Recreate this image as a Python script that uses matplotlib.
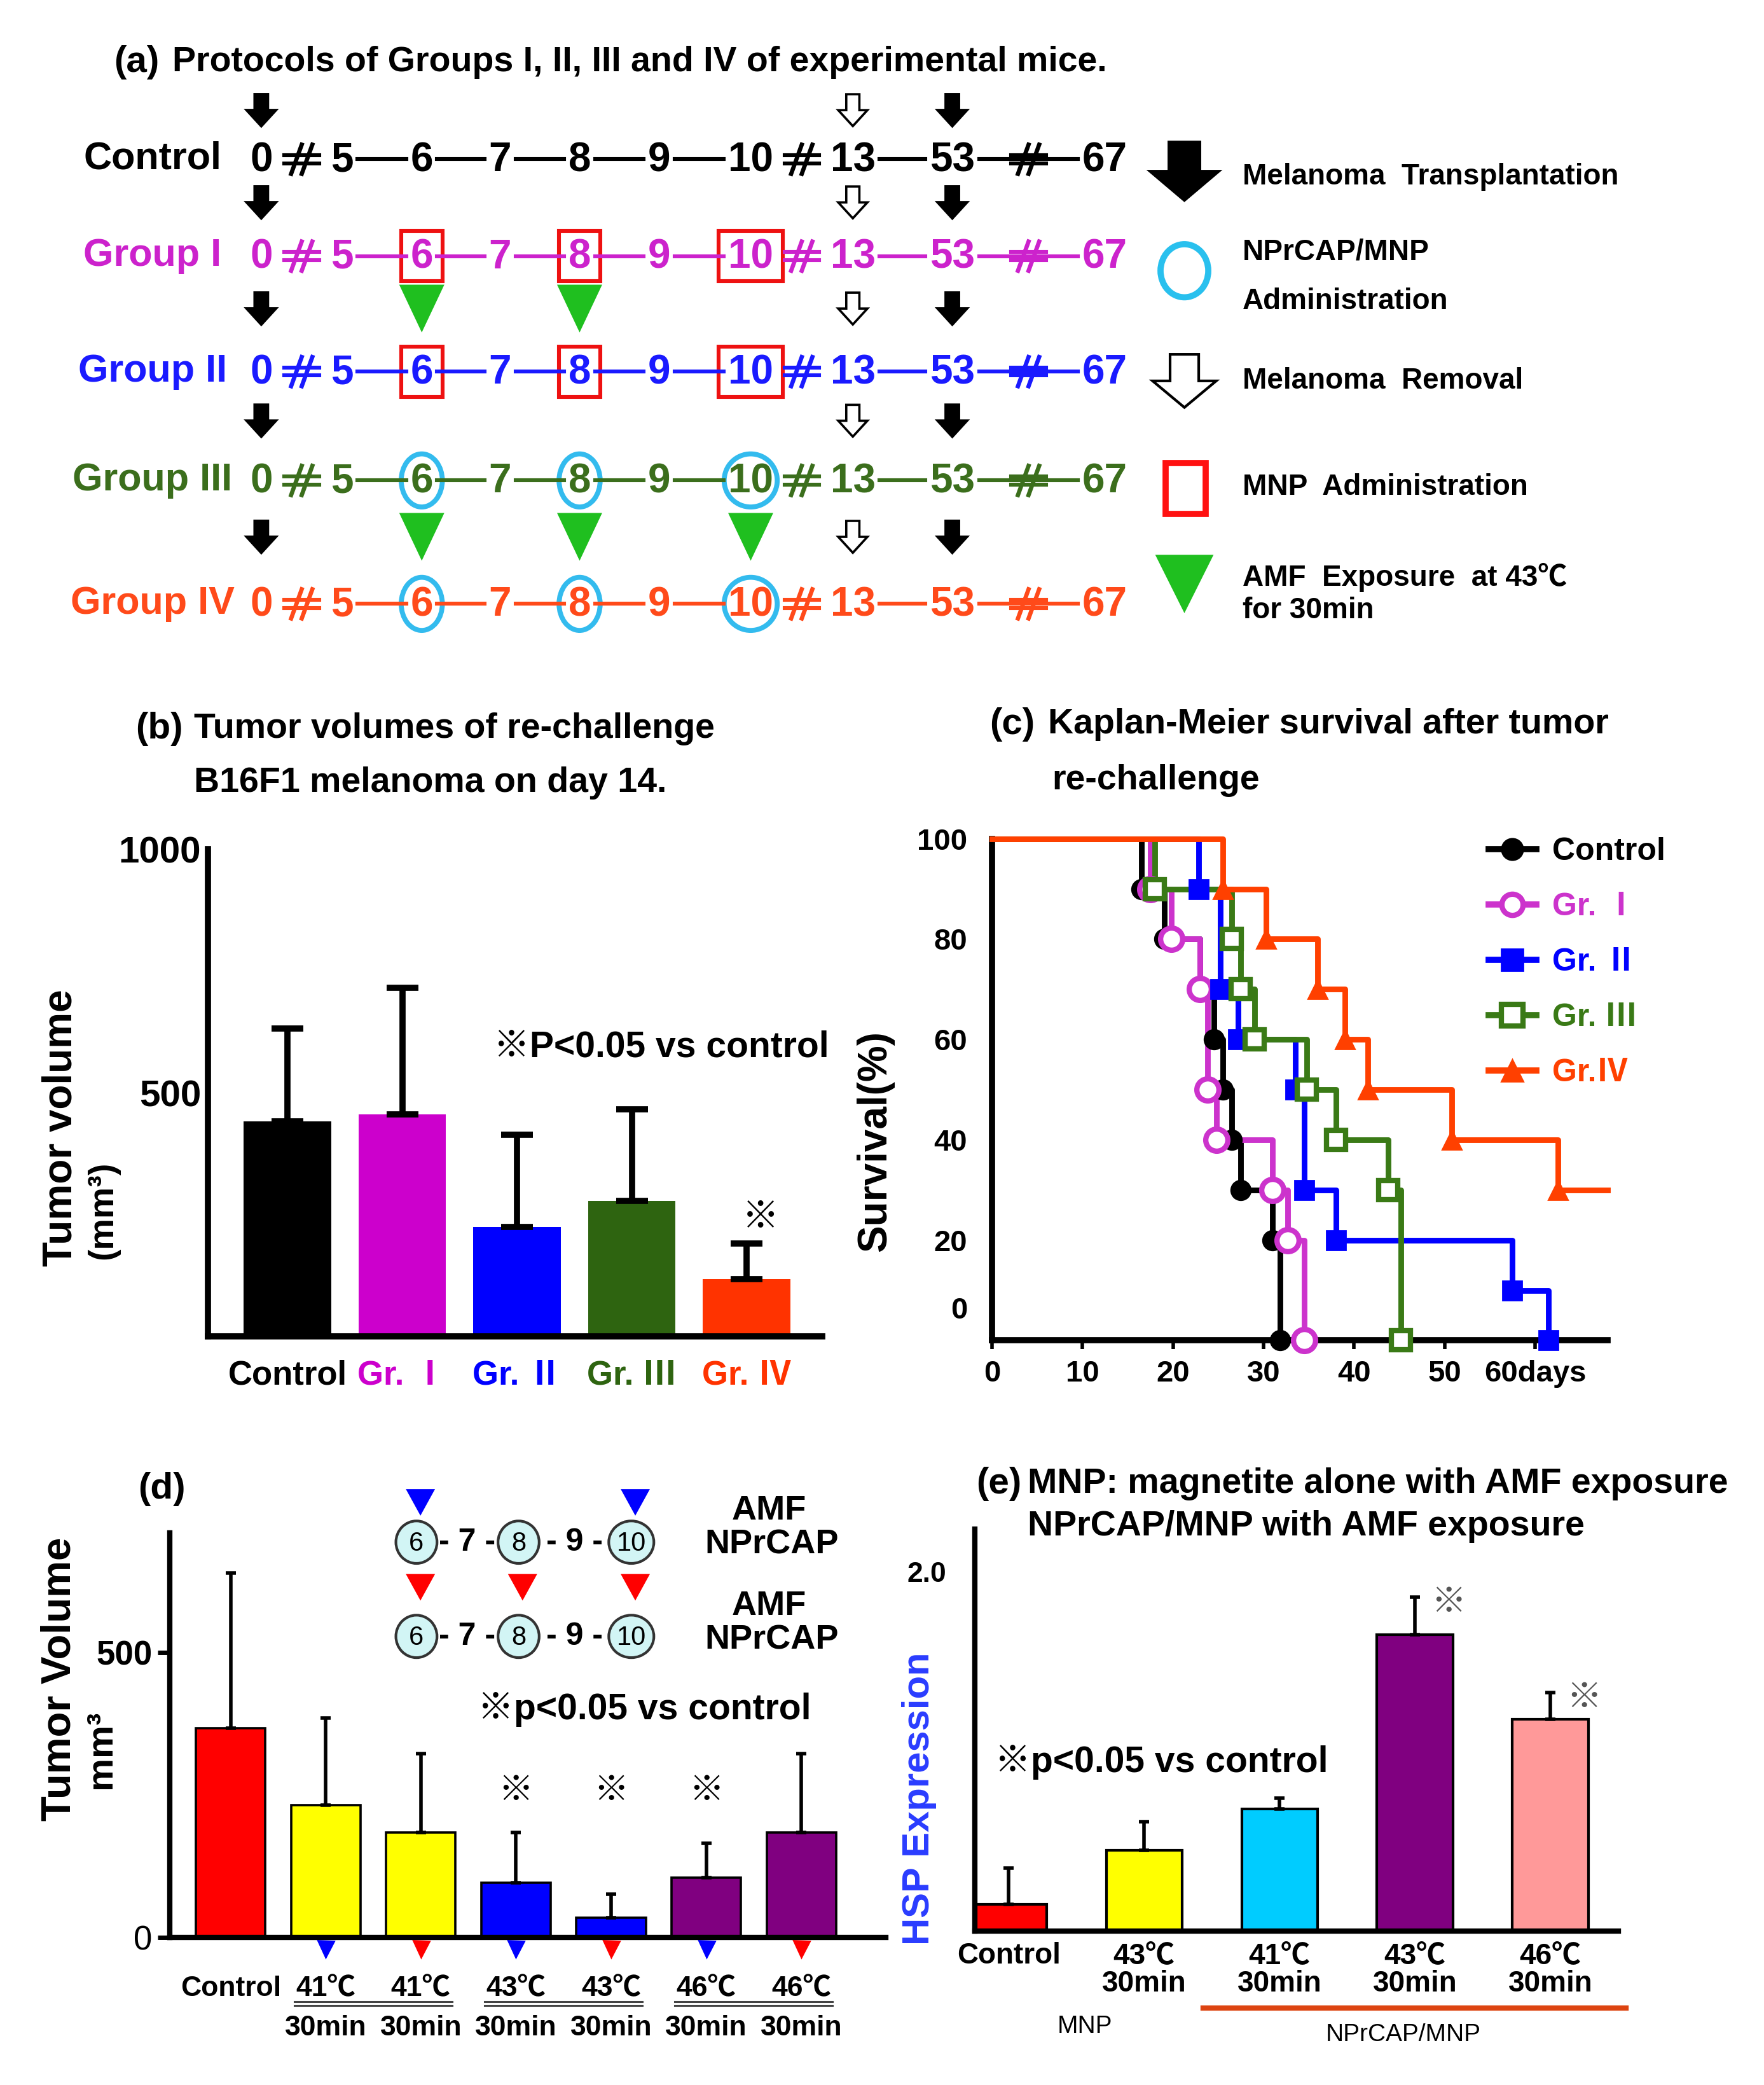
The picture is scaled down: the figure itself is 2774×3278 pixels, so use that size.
import matplotlib
matplotlib.use('Agg')
import matplotlib.pyplot as plt
from matplotlib.patches import Polygon, Rectangle, Ellipse
import numpy as np

plt.rcParams['font.family'] = ['Liberation Sans', 'Noto Sans CJK JP', 'DejaVu Sans']
plt.rcParams['font.weight'] = 'bold'

# ---------------- data ----------------
# (a) protocol scheme
row_names = ['Control', 'Group I', 'Group II', 'Group III', 'Group IV']
row_colors = ['black', '#cc22cc', '#1a1aff', '#3b6e1c', '#ff4a1a']
days = ['0', '5', '6', '7', '8', '9', '10', '13', '53', '67']
transplant_days = ['0', '53']
removal_days = ['13']
mnp_days = {'Group I': ['6', '8', '10'], 'Group II': ['6', '8', '10']}
nprcap_days = {'Group III': ['6', '8', '10'], 'Group IV': ['6', '8', '10']}
amf_days = {'Group I': ['6', '8'], 'Group III': ['6', '8', '10']}

# (b) tumor volume on day 14
b_groups = ['Control', 'Gr. Ⅰ', 'Gr. Ⅱ', 'Gr. Ⅲ', 'Gr. Ⅳ']
b_mean = [441, 456, 225, 279, 118]
b_err = [191, 260, 189, 187, 73]
b_colors = ['#000000', '#cc00cc', '#0000ff', '#2e6410', '#ff3300']

# (c) Kaplan-Meier survival (days, %)
km_labels = ['Control', 'Gr. Ⅰ', 'Gr. Ⅱ', 'Gr. Ⅲ', 'Gr.Ⅳ']
km_ctrl_t = [0, 16.5, 19, 23, 24.5, 25.5, 26.5, 27.5, 31, 31.8]
km_ctrl_s = [100, 90, 80, 70, 60, 50, 40, 30, 20, 0]
km_g1_t = [0, 17.5, 19.8, 23, 23.8, 24.8, 31, 32.7, 34.5]
km_g1_s = [100, 90, 80, 70, 50, 40, 30, 20, 0]
km_g2_t = [0, 22.8, 25.2, 27.2, 33.5, 34.5, 38, 57.5, 61.5]
km_g2_s = [100, 90, 70, 60, 50, 30, 20, 10, 0]
km_g3_t = [0, 18, 26.5, 27.5, 29, 34.8, 38, 43.8, 45.2]
km_g3_s = [100, 90, 80, 70, 60, 50, 40, 30, 0]
km_g4_t = [0, 25.5, 30.3, 36, 39, 41.5, 50.8, 62.5, 68]
km_g4_s = [100, 90, 80, 70, 60, 50, 40, 30, 30]
km_colors = ['black', '#cc33cc', '#0000ff', '#3a7a16', '#ff4000']

# (d) tumor volume vs AMF temperature
d_temp = ['Control', '41℃', '41℃', '43℃', '43℃', '46℃', '46℃']
d_time = ['', '30min', '30min', '30min', '30min', '30min', '30min']
d_mean = [368, 232, 185, 96, 35, 105, 185]
d_err = [272, 153, 138, 88, 41, 60, 138]
d_colors = ['#ff0000', '#ffff00', '#ffff00', '#0000ff', '#0000ff', '#800080', '#800080']
d_amf = [None, 'blue', 'red', 'blue', 'red', 'blue', 'red']
d_sig = [False, False, False, True, True, True, False]

# (e) HSP expression
e_labels = ['Control', '43℃\n30min', '41℃\n30min', '43℃\n30min', '46℃\n30min']
e_mean = [0.15, 0.45, 0.68, 1.65, 1.18]
e_err = [0.20, 0.16, 0.06, 0.21, 0.15]
e_colors = ['#ff0000', '#ffff00', '#00ccff', '#800080', '#ff9999']
e_sig = [False, False, False, True, True]

# ---------------- layout helpers (reference pixel grid) ----------------
W, H = 1330, 1571
fig = plt.figure(figsize=(13.87, 16.39), dpi=200)


def box(x0, y0, x1, y1):
    return [x0 / W, 1 - y1 / H, (x1 - x0) / W, (y1 - y0) / H]


def down_arrow(ax, xc, yc, w, h, filled=True, lw=1.5):
    sw, hh = w * 0.45, h * 0.5
    top, bot = yc - h / 2, yc + h / 2
    pts = [(xc - sw / 2, top), (xc + sw / 2, top), (xc + sw / 2, bot - hh),
           (xc + w / 2, bot - hh), (xc, bot), (xc - w / 2, bot - hh), (xc - sw / 2, bot - hh)]
    ax.add_patch(Polygon(pts, closed=True, facecolor='black' if filled else 'white',
                         edgecolor='black', lw=lw, zorder=5))


def down_tri(ax, xc, yc, w, h, color):
    ax.add_patch(Polygon([(xc - w / 2, yc - h / 2), (xc + w / 2, yc - h / 2), (xc, yc + h / 2)],
                         closed=True, facecolor=color, edgecolor='none', zorder=5))


def break_mark(ax, xc, yc, color):
    # axis-break sign: short bar crossed by two slashes
    ax.plot([xc - 13, xc + 13], [yc - 3, yc - 3], color=color, lw=2.2)
    ax.plot([xc - 13, xc + 13], [yc + 3, yc + 3], color=color, lw=2.2)
    for dx in (-4, 4):
        ax.plot([xc + dx - 4, xc + dx + 4], [yc + 11, yc - 11], color=color, lw=2.4)


def style_axes(ax, lw):
    for s in ['top', 'right']:
        ax.spines[s].set_visible(False)
    for s in ['left', 'bottom']:
        ax.spines[s].set_linewidth(lw)
    ax.patch.set_alpha(0)


# ---------------- (b) ----------------
ax_b = fig.add_axes(box(157, 640, 620, 1007))
xb = np.arange(len(b_groups))
ax_b.bar(xb, b_mean, width=0.76, color=b_colors, zorder=2)
ax_b.errorbar(xb, b_mean, yerr=[np.zeros(len(xb)), b_err], fmt='none', ecolor='black',
              elinewidth=3.5, capsize=9, capthick=3.5, zorder=3)
ax_b.set_ylim(0, 1000)
ax_b.set_xlim(-0.69, 4.66)
style_axes(ax_b, 3.5)
ax_b.set_yticks([500, 1000])
ax_b.tick_params(axis='y', length=0, labelsize=21, pad=4)
ax_b.set_xticks(xb)
ax_b.set_xticklabels(b_groups, fontsize=19)
ax_b.tick_params(axis='x', length=0, pad=13)
for lab, c in zip(ax_b.get_xticklabels(), b_colors):
    lab.set_color(c)
ax_b.annotate('※', xy=(xb[-1], b_mean[-1] + b_err[-1]), xytext=(8, 14),
              textcoords='offset points', ha='center', va='center', fontsize=21, weight='normal')

# ---------------- (c) ----------------
ax_c = fig.add_axes(box(748, 632, 1212, 1010))
km_t = [km_ctrl_t, km_g1_t, km_g2_t, km_g3_t, km_g4_t]
km_s = [km_ctrl_s, km_g1_s, km_g2_s, km_g3_s, km_g4_s]
km_mk = [('o', True), ('o', False), ('s', True), ('s', False), ('^', True)]
handles = []
for t, s, c, (m, filled), lab in zip(km_t, km_s, km_colors, km_mk, km_labels):
    ax_c.step(t, s, where='post', color=c, lw=3.2, clip_on=False, zorder=3)
    mt, ms = (t[1:-1], s[1:-1]) if lab == 'Gr.Ⅳ' else (t[1:], s[1:])
    ax_c.plot(mt, ms, ls='none', marker=m, color=c, ms=11 if m != 'o' or filled else 12.5,
              mfc=c if filled else 'white', mew=3 if not filled else 1, clip_on=False, zorder=4)
    h, = ax_c.plot([], [], color=c, lw=3.5, marker=m, ms=12, mfc=c if filled else 'white',
                   mew=3 if not filled else 1, label=lab)
    handles.append(h)
ax_c.set_xlim(0, 68)
ax_c.set_ylim(0, 100)
style_axes(ax_c, 3.5)
ax_c.set_yticks([100, 80, 60, 40, 20, 6.5])
ax_c.set_yticklabels(['100', '80', '60', '40', '20', '0'])
ax_c.tick_params(axis='y', length=0, labelsize=17, pad=14)
ax_c.set_xticks([0, 10, 20, 30, 40, 50, 60])
ax_c.set_xticklabels(['0', '10', '20', '30', '40', '50', '60days'])
ax_c.tick_params(axis='x', length=5, width=2, labelsize=17, pad=6)
ax_c.legend(handles=handles, loc='upper left', bbox_to_anchor=(0.76, 1.06), frameon=False,
            fontsize=18, handlelength=1.5, labelspacing=0.82, handletextpad=0.5,
            labelcolor='linecolor')

# ---------------- (d) ----------------
ax_d = fig.add_axes(box(128, 1155, 668, 1460))
xd = np.arange(len(d_mean))
ax_d.bar(xd, d_mean, width=0.73, color=d_colors, edgecolor='black', lw=1.3, zorder=2)
ax_d.errorbar(xd, d_mean, yerr=[np.zeros(len(xd)), d_err], fmt='none', ecolor='black',
              elinewidth=2, capsize=3, capthick=2, zorder=3)
ax_d.set_ylim(0, 710)
ax_d.set_xlim(-0.64, 6.89)
style_axes(ax_d, 3)
ax_d.set_yticks([0, 500])
ax_d.set_yticklabels(['0', '500'])
ax_d.tick_params(axis='y', length=7, width=2.5, labelsize=19, pad=3)
ax_d.get_yticklabels()[0].set_fontweight('normal')
ax_d.get_yticklabels()[0].set_fontsize(19)
ax_d.set_xticks([])
for x, col, sig, tp, tm in zip(xd, d_amf, d_sig, d_temp, d_time):
    if col:
        ax_d.plot([x], [-20], ls='none', marker='v', ms=9, color=col, clip_on=False)
    if sig:
        ax_d.text(x, 255, '※', ha='center', va='center', fontsize=20, weight='normal')
    ax_d.annotate(tp, xy=(x, 0), xycoords=('data', 'axes fraction'), xytext=(0, -29),
                  textcoords='offset points', ha='center', va='center', fontsize=16)
    ax_d.annotate(tm, xy=(x, 0), xycoords=('data', 'axes fraction'), xytext=(0, -51),
                  textcoords='offset points', ha='center', va='center', fontsize=16)
for i in (1, 3, 5):
    for yy in (-0.158, -0.168):
        ax_d.plot([xd[i] - 0.33, xd[i + 1] + 0.33], [yy, yy], color='#444444', lw=1.1,
                  transform=ax_d.get_xaxis_transform(), clip_on=False)

# ---------------- (e) ----------------
ax_e = fig.add_axes(box(735, 1152, 1220, 1455))
xe = np.arange(len(e_mean))
ax_e.bar(xe, e_mean, width=0.56, color=e_colors, edgecolor='black', lw=1.5, zorder=2)
ax_e.errorbar(xe, e_mean, yerr=[np.zeros(len(xe)), e_err], fmt='none', ecolor='black',
              elinewidth=2, capsize=3, capthick=2, zorder=3)
ax_e.set_ylim(0, 2.24)
ax_e.set_xlim(-0.25, 4.5)
style_axes(ax_e, 3)
ax_e.set_yticks([2.0])
ax_e.set_yticklabels(['2.0'])
ax_e.tick_params(axis='y', length=0, labelsize=16, pad=16)
ax_e.set_xticks([])
for x, lab, m, e, sig in zip(xe, e_labels, e_mean, e_err, e_sig):
    ax_e.annotate(lab, xy=(x, 0), xycoords=('data', 'axes fraction'), xytext=(0, -6),
                  textcoords='offset points', ha='center', va='top', fontsize=16.5, linespacing=1.0)
    if sig:
        ax_e.annotate('※', xy=(x, m + e), xytext=(19, -4), textcoords='offset points',
                      ha='center', va='center', fontsize=20, weight='normal', color='#555555')

# ---------------- overlay: panel (a) and free text ----------------
ov = fig.add_axes([0, 0, 1, 1], zorder=10)
ov.set_xlim(0, W)
ov.set_ylim(H, 0)
ov.axis('off')

ov.text(86, 47, '(a)', fontsize=21, va='center')
ov.text(130, 47, 'Protocols of Groups I, II, III and IV of experimental mice.', fontsize=20, va='center')

day_x = [197, 258, 318, 377, 437, 497, 566, 643, 718, 833]
row_y = [120, 193, 280, 362, 455]
arrow_y = [row_y[0] - 37] + [(row_y[i] + row_y[i + 1]) / 2 - 4 for i in range(len(row_y) - 1)]
half = 8.6

for name, col, yr in zip(row_names, row_colors, row_y):
    ov.text(115, yr, name, color=col, fontsize=22, ha='center', va='center')
    for tok, x in zip(days, day_x):
        ov.text(x, yr + 1, tok, color=col, fontsize=23, ha='center', va='center')
    for k in range(len(days) - 1):
        a, b = days[k], days[k + 1]
        xa = day_x[k] + half * len(a) + 3
        xb2 = day_x[k + 1] - half * len(b) - 3
        xm = (day_x[k] + day_x[k + 1]) / 2
        if a in ('0', '10'):
            break_mark(ov, xm, yr, col)
        else:
            ov.plot([xa, xb2], [yr, yr], color=col, lw=2.2)
            if a == '53':
                break_mark(ov, xm, yr, col)
    for tok in mnp_days.get(name, []):
        x = day_x[days.index(tok)]
        w = 17 * len(tok) + 14
        ov.add_patch(Rectangle((x - w / 2, yr - 19), w, 38, fill=False, edgecolor='#ee1111', lw=2.2))
    for tok in nprcap_days.get(name, []):
        x = day_x[days.index(tok)]
        ov.add_patch(Ellipse((x, yr), 22 + 9 * len(tok), 40, fill=False, edgecolor='#33bbee', lw=2.8))

for i, ya in enumerate(arrow_y):
    for tok in transplant_days:
        down_arrow(ov, day_x[days.index(tok)], ya, 22, 24, True)
    for tok in removal_days:
        down_arrow(ov, day_x[days.index(tok)], ya, 22, 24, False, lw=1.3)
    for tok in amf_days.get(row_names[i - 1], []) if i > 0 else []:
        down_tri(ov, day_x[days.index(tok)], ya, 34, 36, '#1fbf1f')

# legend of (a)
down_arrow(ov, 893, 129, 52, 44, True)
ov.add_patch(Ellipse((893, 204), 36, 40, fill=False, edgecolor='#29c0ee', lw=3.5))
down_arrow(ov, 893, 287, 48, 40, False, lw=1.5)
ov.add_patch(Rectangle((879, 349), 30, 38, fill=False, edgecolor='#ff1111', lw=3.5))
down_tri(ov, 893, 440, 44, 44, '#1fbf1f')
ov.text(937, 133, 'Melanoma  Transplantation', fontsize=16.5, va='center')
ov.text(937, 190, 'NPrCAP/MNP', fontsize=16.5, va='center')
ov.text(937, 227, 'Administration', fontsize=16.5, va='center')
ov.text(937, 287, 'Melanoma  Removal', fontsize=16.5, va='center')
ov.text(937, 367, 'MNP  Administration', fontsize=16.5, va='center')
ov.text(937, 435, 'AMF  Exposure  at 43℃', fontsize=16.5, va='center')
ov.text(937, 460, 'for 30min', fontsize=16.5, va='center')

# titles / labels (b)
ov.text(102, 549, '(b)', fontsize=21, va='center')
ov.text(146, 549, 'Tumor volumes of re-challenge', fontsize=20, va='center')
ov.text(146, 590, 'B16F1 melanoma on day 14.', fontsize=20, va='center')
ov.text(46, 850, 'Tumor volume', fontsize=23, rotation=90, ha='center', va='center')
ov.text(78, 912, '(mm³)', fontsize=20, rotation=90, ha='center', va='center')
ov.text(372, 789, '※P<0.05 vs control', fontsize=20.5, va='center')

# titles / labels (c)
ov.text(746, 546, '(c)', fontsize=21, va='center')
ov.text(790, 546, 'Kaplan-Meier survival after tumor', fontsize=20, va='center')
ov.text(793, 588, 're-challenge', fontsize=20, va='center')
ov.text(660, 860, 'Survival(%)', fontsize=23, rotation=90, ha='center', va='center')

# titles / labels (d)
ov.text(104, 1122, '(d)', fontsize=21, va='center')
ov.text(45, 1265, 'Tumor Volume', fontsize=23.5, rotation=90, ha='center', va='center')
ov.text(76, 1318, 'mm³', fontsize=21, rotation=90, ha='center', va='center')
sched_x = {'6': 314, '8': 391, '10': 476}
sched_rows = [('#0000ff', ['6', '10'], 1132, 1162), ('#ff0000', ['6', '8', '10'], 1196, 1233)]
for col, tri_days, yt, yc in sched_rows:
    for tok in tri_days:
        down_tri(ov, sched_x[tok] + 3, yt, 22, 20, col)
    for tok, x in sched_x.items():
        ov.add_patch(Ellipse((x, yc), 28 + 3 * len(tok), 32, facecolor='#d2f5f5',
                             edgecolor='#333333', lw=1.5, zorder=4))
        ov.text(x, yc + 1, tok, fontsize=15, ha='center', va='center', zorder=6, weight='normal')
    ov.text(352, yc, '- 7 -', fontsize=18, ha='center', va='center')
    ov.text(433, yc, '- 9 -', fontsize=18, ha='center', va='center')
ov.text(580, 1138, 'AMF', fontsize=19.5, ha='center', va='center')
ov.text(582, 1164, 'NPrCAP', fontsize=19.5, ha='center', va='center')
ov.text(580, 1210, 'AMF', fontsize=19.5, ha='center', va='center')
ov.text(582, 1236, 'NPrCAP', fontsize=19.5, ha='center', va='center')
ov.text(360, 1288, '※p<0.05 vs control', fontsize=20.5, va='center')

# titles / labels (e)
ov.text(736, 1118, '(e)', fontsize=21, va='center')
ov.text(775, 1118, 'MNP: magnetite alone with AMF exposure', fontsize=20, va='center')
ov.text(775, 1150, 'NPrCAP/MNP with AMF exposure', fontsize=20, va='center')
ov.text(693, 1355, 'HSP Expression', fontsize=21.5, rotation=90, ha='center', va='center', color='#2a3cff')
ov.text(750, 1328, '※p<0.05 vs control', fontsize=20.5, va='center')
ov.plot([907, 1226], [1513, 1513], color='#dd4411', lw=3)
ov.text(818, 1527, 'MNP', fontsize=14, ha='center', va='center', weight='normal')
ov.text(1058, 1533, 'NPrCAP/MNP', fontsize=14, ha='center', va='center', weight='normal')

fig.savefig('out.png', dpi=200, facecolor='white')
